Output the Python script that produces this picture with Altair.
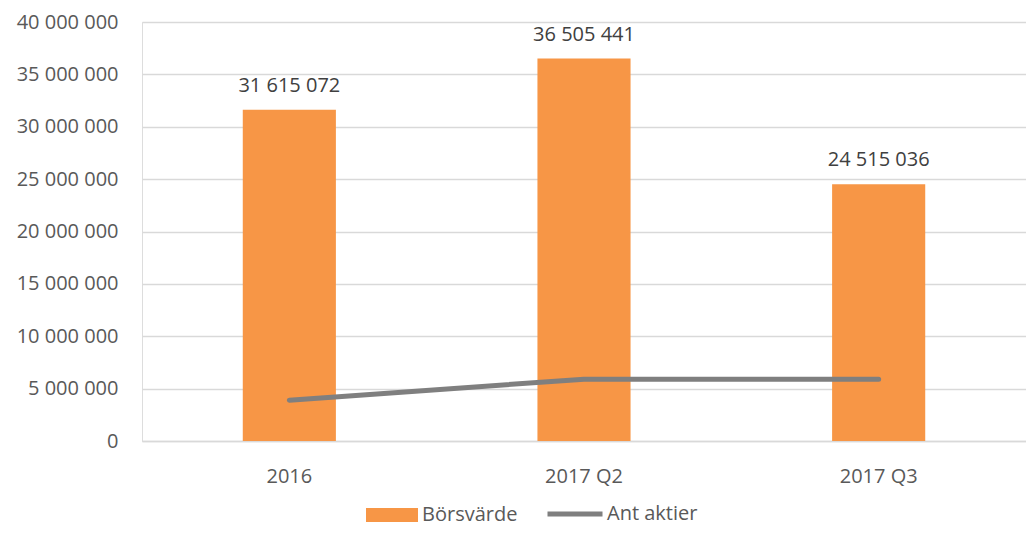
import altair as alt
import pandas as pd

categories = ["2016", "2017 Q2", "2017 Q3"]
borsvarde = [31615072, 36505441, 24515036]
ant_aktier = [3900000, 5900000, 5900000]
y_ticks = [0, 5000000, 10000000, 15000000, 20000000, 25000000, 30000000, 35000000, 40000000]
series_names = ["Börsvärde", "Ant aktier"]

df = pd.DataFrame({"kategori": categories, "borsvarde": borsvarde, "aktier": ant_aktier})
df["etikett"] = [f"{v:,}".replace(",", " ") for v in borsvarde]
df["serie_bar"] = series_names[0]
df["serie_line"] = series_names[1]

FONT = "Open Sans"
ORANGE = "#F79646"
GRAY = "#7F7F7F"
LABEL = "#595959"

x = alt.X(
    "kategori:N",
    sort=categories,
    scale=alt.Scale(paddingInner=0.684, paddingOuter=0.342),
    axis=alt.Axis(
        title=None, labelAngle=0, labelFontSize=20, labelColor=LABEL, labelFont=FONT,
        labelPadding=25, ticks=False, domain=True, domainColor="#D9D9D9", domainWidth=1.5,
        grid=False,
    ),
)
yscale = alt.Scale(domain=[0, 40000000], nice=False)

bars = alt.Chart(df).mark_bar().encode(
    x=x,
    y=alt.Y(
        "borsvarde:Q",
        scale=yscale,
        axis=alt.Axis(
            title=None, values=y_ticks,
            labelExpr="replace(format(datum.value, ','), /,/g, ' ')",
            labelFontSize=20, labelColor=LABEL, labelFont=FONT, labelPadding=24,
            ticks=False, domain=False, grid=True, gridColor="#D9D9D9", gridWidth=1.3,
        ),
    ),
    fill=alt.Fill(
        "serie_bar:N",
        scale=alt.Scale(domain=[series_names[0]], range=[ORANGE]),
        legend=alt.Legend(
            title=None, orient="none", legendX=224, legendY=467,
            symbolType="M-1,-0.27H1V0.27H-1Z", symbolSize=2704, symbolStrokeWidth=0,
            labelFontSize=20, labelColor=LABEL, labelFont=FONT, labelOffset=4,
        ),
    ),
)

labels = alt.Chart(df).mark_text(
    baseline="middle", dy=-24, fontSize=20, font=FONT, color="#404040"
).encode(
    x=alt.X("kategori:N", sort=categories),
    y=alt.Y("borsvarde:Q", scale=yscale),
    text="etikett:N",
)

line = alt.Chart(df).mark_line(strokeWidth=5, strokeCap="round", strokeJoin="round").encode(
    x=alt.X("kategori:N", sort=categories),
    y=alt.Y("aktier:Q", scale=yscale),
    stroke=alt.Stroke(
        "serie_line:N",
        scale=alt.Scale(domain=[series_names[1]], range=[GRAY]),
        legend=alt.Legend(
            title=None, orient="none", legendX=403, legendY=462,
            symbolType="stroke", symbolSize=3025, symbolStrokeWidth=5,
            labelFontSize=20, labelColor=LABEL, labelFont=FONT, labelOffset=2,
        ),
    ),
)

chart = alt.layer(bars, labels, line).resolve_scale(x="shared", y="shared").properties(
    width=884,
    height=419,
    autosize=alt.AutoSizeParams(type="none"),
    padding={"left": 134, "top": 14, "right": 0, "bottom": 86},
).configure_view(stroke=None).configure(background="white")

chart.save("out.html", embed_options={"renderer": "svg", "actions": False})
